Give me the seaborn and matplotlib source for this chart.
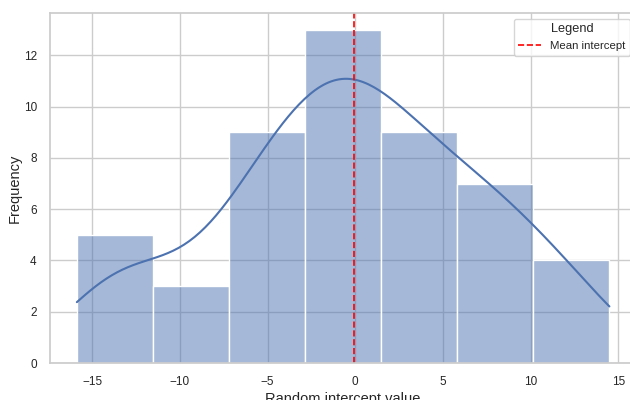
import numpy as np
import pandas as pd
import matplotlib
matplotlib.use("Agg")
import matplotlib.pyplot as plt
import seaborn as sns

# Histogram data
bin_edges = [-15.87, -11.53, -7.20, -2.86, 1.48, 5.81, 10.15, 14.48]
counts = [5, 3, 9, 13, 9, 7, 4]
mean_intercept = -0.07

centers = [(a + b) / 2 for a, b in zip(bin_edges[:-1], bin_edges[1:])]
df = pd.DataFrame({"intercept": np.repeat(centers, counts)})

sns.set_theme(style="whitegrid")
plt.rcParams["font.family"] = ["Liberation Sans", "DejaVu Sans"]

fig = plt.figure(figsize=(6.3, 4.0), dpi=100)
ax = fig.add_axes([50 / 630, 37 / 400, 586 / 630, 350 / 400])

sns.histplot(data=df, x="intercept", bins=bin_edges, kde=True,
             kde_kws={"cut": 0.685, "bw_adjust": 0.95}, ax=ax,
             edgecolor="white", linewidth=1)
ax.axvline(mean_intercept, color="red", linestyle="--", linewidth=1.2,
           label="Mean intercept")

ax.set_xlim(-17.4, 16.0)
ax.set_ylim(0, 13.65)
ax.set_xlabel("Random intercept value", fontsize=10.5, labelpad=3)
ax.set_ylabel("Frequency", fontsize=10.5, labelpad=1)
ax.tick_params(labelsize=8.5)
ax.legend(title="Legend", loc="upper right", fontsize=8.2, title_fontsize=9.2)

fig.savefig("out.png", dpi=100)
